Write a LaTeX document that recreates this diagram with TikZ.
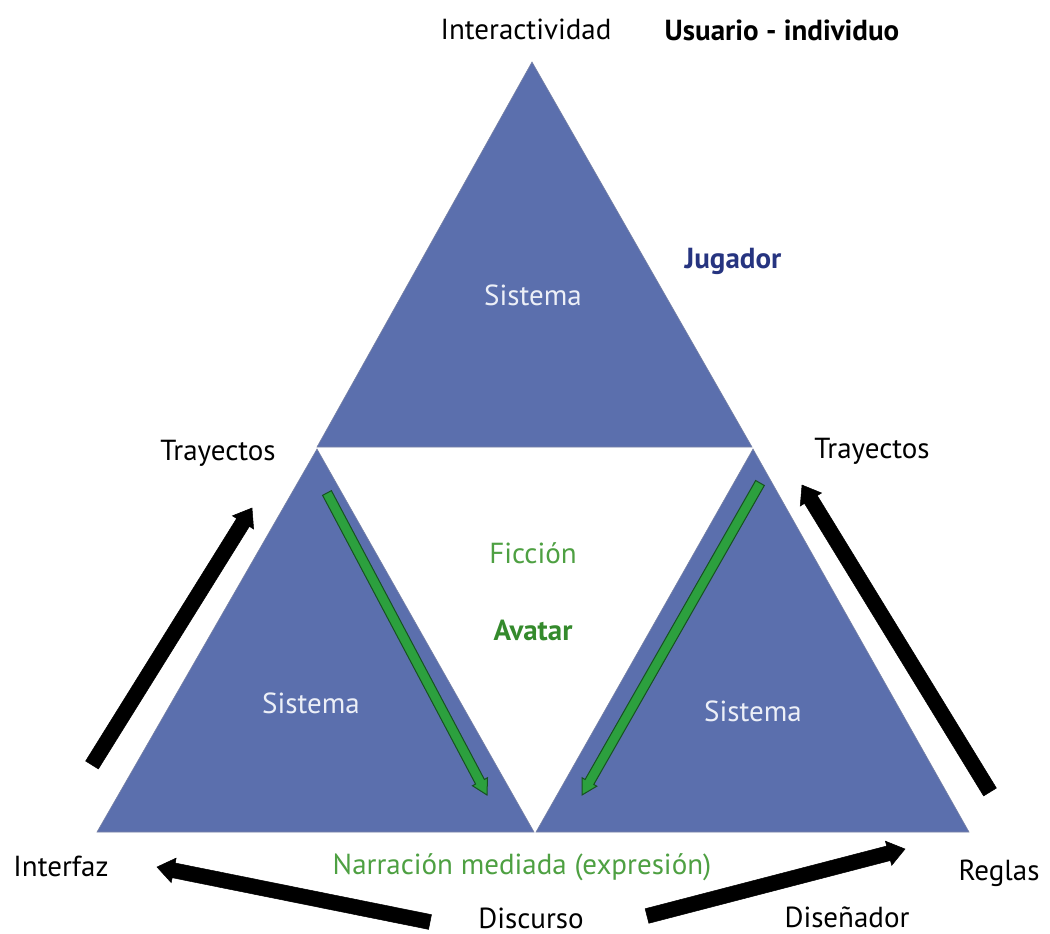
\documentclass[tikz,border=0pt]{standalone}
\usepackage{fontspec}
\setmainfont{PT Sans}
\usetikzlibrary{calc}
\definecolor{triblue}{RGB}{91,111,173}
\definecolor{triedge}{RGB}{120,130,165}
\definecolor{systext}{RGB}{236,239,247}
\definecolor{jugblue}{RGB}{38,52,128}
\definecolor{fictgreen}{RGB}{78,160,66}
\definecolor{avgreen}{RGB}{52,138,44}
\definecolor{arrgreen}{RGB}{44,160,62}
\definecolor{arredge}{RGB}{22,82,32}
\newcommand\fatarrow[6]{%
  \coordinate (fa-h) at ($(#2)!#5!(#1)$);
  \filldraw[#6] ($(#1)!#3!90:(#2)$) -- ($(fa-h)!#3!-90:(#1)$) -- ($(fa-h)!#4!-90:(#1)$) -- (#2)
    -- ($(fa-h)!#4!90:(#1)$) -- ($(fa-h)!#3!90:(#1)$) -- ($(#1)!#3!-90:(#2)$) -- cycle;}
\tikzset{
  lbl/.style={font=\fontsize{29}{34}\selectfont, anchor=base, inner sep=0pt},
  tri/.style={fill=triblue, draw=triedge, line width=0.6pt},
  blackarr/.style={fill=black, draw=black, line width=0.5pt, line join=miter},
  greenarr/.style={fill=arrgreen, draw=arredge, line width=1pt, line join=miter}
}
\begin{document}
\begin{tikzpicture}[x=1pt,y=-1pt]
\useasboundingbox (0,0) rectangle (1050,934);
% triangles
\coordinate (tA) at (532,62);
\coordinate (tL) at (317,447);
\coordinate (tR) at (752,447);
\coordinate (lA) at (317,449);
\coordinate (lL) at (97,832);
\coordinate (lR) at (534,832);
\coordinate (rA) at (753,449);
\coordinate (rL) at (536,832);
\coordinate (rR) at (969,832);
\draw[tri] (tA) -- (tL) -- (tR) -- cycle;
\draw[tri] (lA) -- (lL) -- (lR) -- cycle;
\draw[tri] (rA) -- (rL) -- (rR) -- cycle;
% labels
\node[lbl] (inter) at (526,40) {Interactividad};
\node[lbl, font=\fontsize{29}{34}\selectfont\bfseries] (usu) at (782,41) {Usuario - individuo};
\node[lbl, font=\fontsize{29}{34}\selectfont\bfseries, text=jugblue] (jug) at (733,268) {Jugador};
\node[lbl, text=systext] (sisT) at (533,305) {Sistema};
\node[lbl] (trayL) at (218,460) {Trayectos};
\node[lbl] (trayR) at (872,458) {Trayectos};
\node[lbl, text=fictgreen] (fic) at (533,563) {Ficción};
\node[lbl, font=\fontsize{29}{34}\selectfont\bfseries, text=avgreen] (ava) at (533,640) {Avatar};
\node[lbl, text=systext] (sisL) at (311,713) {Sistema};
\node[lbl, text=systext] (sisR) at (753,721) {Sistema};
\node[lbl] (interfaz) at (61,876) {Interfaz};
\node[lbl, text=fictgreen] (narr) at (522,874) {Narración mediada (expresión)};
\node[lbl] (reglas) at (999,880) {Reglas};
\node[lbl] (disc) at (531,928) {Discurso};
\node[lbl] (dise) at (847,927) {Diseñador};
% green arrows
\coordinate (gL1) at (327,493);
\coordinate (gL2) at (487,795);
\coordinate (gR1) at (760,483);
\coordinate (gR2) at (582,795);
\fatarrow{gL1}{gL2}{5pt}{8.5pt}{15pt}{greenarr}
\fatarrow{gR1}{gR2}{5pt}{8.5pt}{15pt}{greenarr}
% black arrows
\coordinate (bL1) at (92,765);
\coordinate (bL2) at (252,508);
\coordinate (bR1) at (990,792);
\coordinate (bR2) at (802,485);
\coordinate (bBL1) at (430,922);
\coordinate (bBL2) at (157,867);
\coordinate (bBR1) at (647,916);
\coordinate (bBR2) at (905,849);
\fatarrow{bL1}{bL2}{7.5pt}{12.5pt}{17pt}{blackarr}
\fatarrow{bR1}{bR2}{7.5pt}{12.5pt}{17pt}{blackarr}
\fatarrow{bBL1}{bBL2}{7.5pt}{12.5pt}{17pt}{blackarr}
\fatarrow{bBR1}{bBR2}{7.5pt}{12.5pt}{17pt}{blackarr}
\end{tikzpicture}
\end{document}
